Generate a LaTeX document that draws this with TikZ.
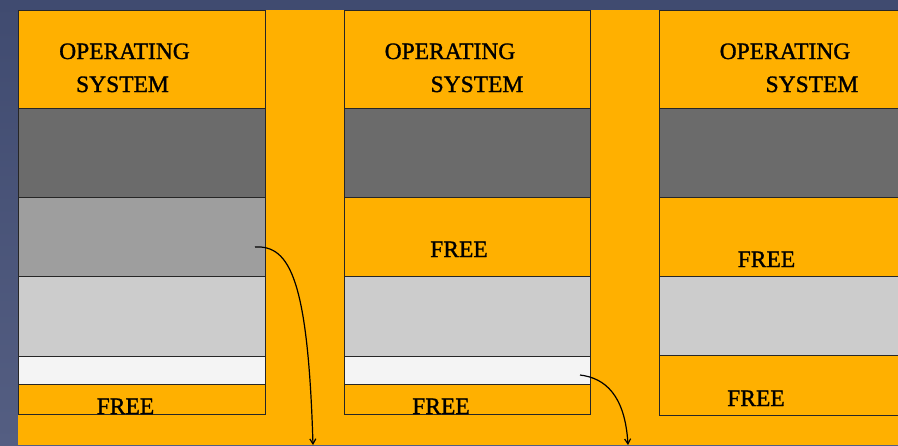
\documentclass[tikz,border=0pt]{standalone}
\usepackage{fontspec}
\setmainfont[BoldFont={Liberation Serif}, BoldFeatures={FakeBold=1.2}]{Liberation Serif}
\usetikzlibrary{arrows.meta}
\definecolor{slate}{RGB}{64,75,112}
\definecolor{slatelow}{RGB}{84,94,130}
\definecolor{memorange}{RGB}{255,176,0}
\definecolor{procdark}{RGB}{107,107,107}
\definecolor{procmid}{RGB}{158,158,158}
\definecolor{proclight}{RGB}{204,204,204}
\definecolor{procwhite}{RGB}{244,244,244}
\begin{document}
\begin{tikzpicture}[x=1pt,y=-1pt,
  part/.style={draw=black!85, line width=1pt},
  lbl/.style={anchor=base, inner sep=0pt, font=\fontsize{23.5}{26}\bfseries},
  move/.style={line width=1.2pt, -{Straight Barb[length=5pt,width=6pt]}}]
\useasboundingbox (0,0) rectangle (898,445);
\clip (0,0) rectangle (898,445);
\shade[top color=slate, bottom color=slatelow] (0,0) rectangle (898,445);
\fill[memorange] (18,10) rectangle (898,445);
% first layout
\filldraw[part, fill=memorange] (18,10) rectangle (265,108);
\filldraw[part, fill=procdark] (18,108) rectangle (265,197);
\filldraw[part, fill=procmid] (18,197) rectangle (265,276);
\filldraw[part, fill=proclight] (18,276) rectangle (265,356);
\filldraw[part, fill=procwhite] (18,356) rectangle (265,384);
\filldraw[part, fill=memorange] (18,384) rectangle (265,414);
\node[lbl] (osa1) at (124.5,59) {OPERATING};
\node[lbl] (osb1) at (122.5,92) {SYSTEM};
\node[lbl] (free1) at (125.5,414) {FREE};
% second layout
\filldraw[part, fill=memorange] (344,10) rectangle (590,108);
\filldraw[part, fill=procdark] (344,108) rectangle (590,197);
\filldraw[part, fill=memorange] (344,197) rectangle (590,276);
\filldraw[part, fill=proclight] (344,276) rectangle (590,356);
\filldraw[part, fill=procwhite] (344,356) rectangle (590,384);
\filldraw[part, fill=memorange] (344,384) rectangle (590,414);
\node[lbl] (osa2) at (450,59) {OPERATING};
\node[lbl] (osb2) at (477,92) {SYSTEM};
\node[lbl] (free2) at (459,257) {FREE};
\node[lbl] (free3) at (441,414) {FREE};
% third layout
\filldraw[part, fill=memorange] (659,10) rectangle (905,108);
\filldraw[part, fill=procdark] (659,108) rectangle (905,197);
\filldraw[part, fill=memorange] (659,197) rectangle (905,276);
\filldraw[part, fill=proclight] (659,276) rectangle (905,355);
\filldraw[part, fill=memorange] (659,355) rectangle (905,415);
\node[lbl] (osa3) at (785,59) {OPERATING};
\node[lbl] (osb3) at (812,92) {SYSTEM};
\node[lbl] (free4) at (766.5,267) {FREE};
\node[lbl] (free5) at (756,406) {FREE};
% moves
\coordinate (from1) at (255,247);
\coordinate (to1) at (313,445);
\coordinate (from2) at (580,375);
\coordinate (to2) at (628,445);
\draw[move] (from1) .. controls (290,245) and (308,280) .. (to1);
\draw[move] (from2) .. controls (605,378) and (625,395) .. (to2);
\end{tikzpicture}
\end{document}
